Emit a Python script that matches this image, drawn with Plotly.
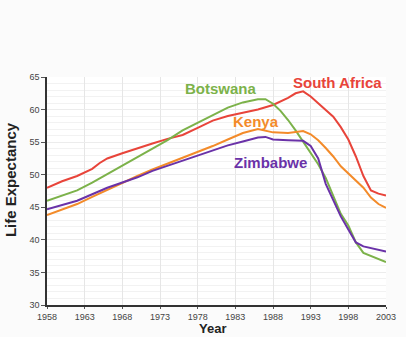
import plotly.graph_objects as go

sa_years = [1958, 1960, 1962, 1964, 1965, 1966, 1968, 1970, 1972, 1974, 1976, 1978, 1980, 1982, 1984, 1986, 1988, 1990, 1991, 1992, 1993, 1994, 1995, 1996, 1997, 1998, 1999, 2000, 2001, 2002, 2003]
sa_vals = [48.0, 49.0, 49.8, 50.9, 51.8, 52.5, 53.3, 54.1, 54.8, 55.5, 56.1, 57.2, 58.3, 59.0, 59.5, 60.0, 60.7, 61.8, 62.5, 62.8, 62.0, 61.0, 60.0, 58.9, 57.3, 55.4, 52.8, 49.8, 47.6, 47.1, 46.8]

bw_years = [1958, 1960, 1962, 1964, 1966, 1968, 1970, 1972, 1974, 1976, 1978, 1980, 1982, 1984, 1986, 1987, 1988, 1989, 1990, 1991, 1992, 1993, 1994, 1995, 1996, 1997, 1998, 1999, 2000, 2001, 2002, 2003]
bw_vals = [46.0, 46.8, 47.6, 48.8, 50.1, 51.3, 52.6, 54.0, 55.3, 56.8, 58.0, 59.1, 60.3, 61.1, 61.6, 61.6, 60.9, 59.8, 58.4, 56.8, 55.0, 53.2, 51.6, 49.5, 46.6, 44.0, 42.2, 39.6, 38.0, 37.5, 37.0, 36.6]

zw_years = [1958, 1960, 1962, 1964, 1966, 1968, 1970, 1972, 1974, 1976, 1978, 1980, 1982, 1984, 1986, 1987, 1988, 1990, 1992, 1993, 1994, 1995, 1996, 1997, 1998, 1999, 2000, 2001, 2002, 2003]
zw_vals = [44.7, 45.4, 46.0, 47.0, 48.0, 48.8, 49.6, 50.6, 51.4, 52.2, 53.0, 53.8, 54.5, 55.1, 55.7, 55.8, 55.4, 55.3, 55.2, 54.4, 52.5, 48.6, 46.0, 43.6, 41.6, 39.6, 39.0, 38.7, 38.4, 38.2]

ke_years = [1958, 1960, 1962, 1964, 1966, 1968, 1970, 1972, 1974, 1976, 1978, 1980, 1982, 1984, 1986, 1987, 1988, 1990, 1991, 1992, 1993, 1994, 1995, 1996, 1997, 1998, 1999, 2000, 2001, 2002, 2003]
ke_vals = [43.8, 44.6, 45.5, 46.6, 47.7, 48.7, 49.8, 50.8, 51.7, 52.6, 53.4, 54.4, 55.4, 56.4, 57.0, 56.8, 56.5, 56.4, 56.6, 56.7, 56.2, 55.3, 54.1, 52.8, 51.3, 50.2, 49.1, 48.0, 46.5, 45.5, 44.9]

tick_years = [1958, 1963, 1968, 1973, 1978, 1983, 1988, 1993, 1998, 2003]
tick_vals = [30, 35, 40, 45, 50, 55, 60, 65]

series = [
    ("South Africa", sa_years, sa_vals, "#e8443a", 1996.6, 64.1),
    ("Botswana", bw_years, bw_vals, "#7cb24a", 1981.1, 63.3),
    ("Kenya", ke_years, ke_vals, "#f38b2a", 1985.7, 58.1),
    ("Zimbabwe", zw_years, zw_vals, "#6a32a8", 1987.7, 51.8),
]

fig = go.Figure()
for name, xs, ys, col, lx, ly in series:
    fig.add_trace(go.Scatter(x=xs, y=ys, mode="lines", name=name,
                             line=dict(color=col, width=2), showlegend=False))
    fig.add_annotation(x=lx, y=ly, text="<b>%s</b>" % name, showarrow=False,
                       font=dict(color=col, size=15, family="Liberation Sans"))

# axis titles
fig.add_annotation(xref="paper", yref="paper", x=0.487, y=-0.1404, xanchor="center", yanchor="bottom",
                   text="<b>Year</b>", showarrow=False, borderpad=0,
                   font=dict(size=13, color="#222", family="Liberation Sans"))
fig.add_annotation(xref="paper", yref="paper", x=-0.109, y=0.548, xanchor="center", yanchor="middle",
                   text="<b>Life Expectancy</b>", showarrow=False, textangle=-90,
                   font=dict(size=15, color="#222", family="Liberation Sans"))

fig.update_layout(
    width=406, height=337,
    margin=dict(l=47, r=20, t=77, b=32),
    paper_bgcolor="#fbfbfb", plot_bgcolor="#ffffff",
    font=dict(family="Liberation Sans", color="#444", size=9),
)
fig.update_xaxes(range=[1958, 2003], tickvals=tick_years, ticktext=[str(t) for t in tick_years],
                 automargin=False,
                 showline=True, linecolor="#333", linewidth=1.5, ticks="outside", ticklen=2,
                 tickcolor="#555", showgrid=True, gridcolor="#e6e6e6", zeroline=False,
                 tickfont=dict(size=9, color="#444"))
fig.update_yaxes(range=[30, 65], tickvals=tick_vals, showline=True, linecolor="#333", linewidth=1.5,
                 automargin=False,
                 ticks="outside", ticklen=4, tickcolor="#555", showgrid=True, gridcolor="#ececec",
                 zeroline=False, tickfont=dict(size=9, color="#444"),
                 minor=dict(dtick=1, showgrid=True, gridcolor="#f2f2f2", ticks=""))

fig.write_html("out.html")
